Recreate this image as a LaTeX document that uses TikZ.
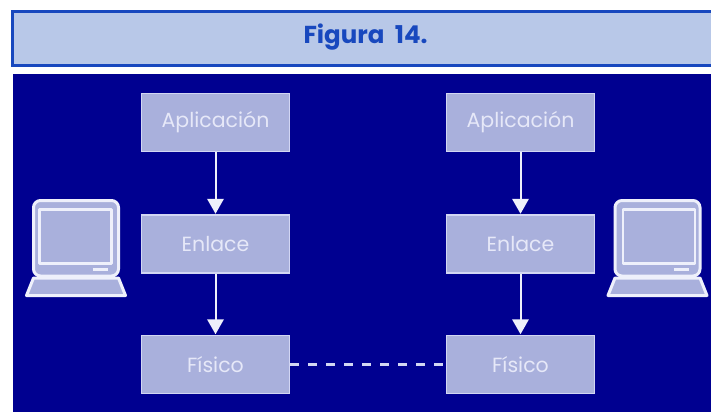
\documentclass[tikz,border=0pt]{standalone}
\usepackage{fontspec}
\setmainfont{Poppins}
\usetikzlibrary{arrows.meta}
\definecolor{hfill}{HTML}{B8C8E8}
\definecolor{hline}{HTML}{1848BE}
\definecolor{panel}{HTML}{000090}
\definecolor{boxfill}{HTML}{A9B0DC}
\definecolor{boxline}{HTML}{D2D6F3}
\definecolor{txt}{HTML}{E6E8F8}
\definecolor{wline}{HTML}{EEF0FB}
\tikzset{
  x=1pt,y=-1pt,
  layer/.style={draw=boxline,line width=1.5pt,fill=boxfill,text=txt,minimum width=148pt,minimum height=58pt,inner sep=0pt,font=\fontsize{20.5}{20.5}\selectfont},
  flow/.style={wline,line width=2pt,-{Triangle[length=15pt,width=16.5pt,fill=wline]},shorten >=0.5pt},
  link/.style={boxline,line width=2.2pt,dash pattern=on 9pt off 9pt},
  lap/.style={wline,line width=3pt,fill=boxfill,line join=round},
}
\newcommand{\laptop}[3]{% left x of shell, width of shell, inner offset
  \begin{scope}[xshift=#1pt]
    \draw[lap] (-7,295.5) -- (0,278) -- (#2,278) -- (#2+7,295.5) -- cycle;
    \draw[lap,rounded corners=7pt] (0,200.5) rectangle (#2,276);
    \draw[lap,line width=2.5pt] (#3,209.5) rectangle (#3+72,263.5);
    \draw[wline,line width=3pt] (#2-26,269) -- (#2-11,269);
  \end{scope}
}
\begin{document}
\begin{tikzpicture}
\useasboundingbox (0,0) rectangle (711,412);
\fill[white] (0,0) rectangle (711,412);
\fill[hline] (11,10) rectangle (711,67);
\fill[hfill] (14,13) rectangle (711,64);
\node[text=hline,font=\fontsize{24.5}{24.5}\selectfont\bfseries,inner sep=0pt] (title) at (365.5,37) {Figura\ \ 14.};
\fill[panel] (13,74) rectangle (711,412);
\node[layer] (a1) at (215.5,122.5) {Aplicación};
\node[layer] (e1) at (215.5,244) {Enlace};
\node[layer] (f1) at (215.5,364.5) {Físico};
\node[layer] (a2) at (520.5,122.5) {Aplicación};
\node[layer] (e2) at (520.5,244) {Enlace};
\node[layer] (f2) at (520.5,364.5) {Físico};
\draw[flow] (a1) -- (e1);
\draw[flow] (e1) -- (f1);
\draw[flow] (a2) -- (e2);
\draw[flow] (e2) -- (f2);
\draw[link] (f1) -- (f2);
\laptop{33.5}{85}{6}
\laptop{615}{85}{8}
\end{tikzpicture}
\end{document}
